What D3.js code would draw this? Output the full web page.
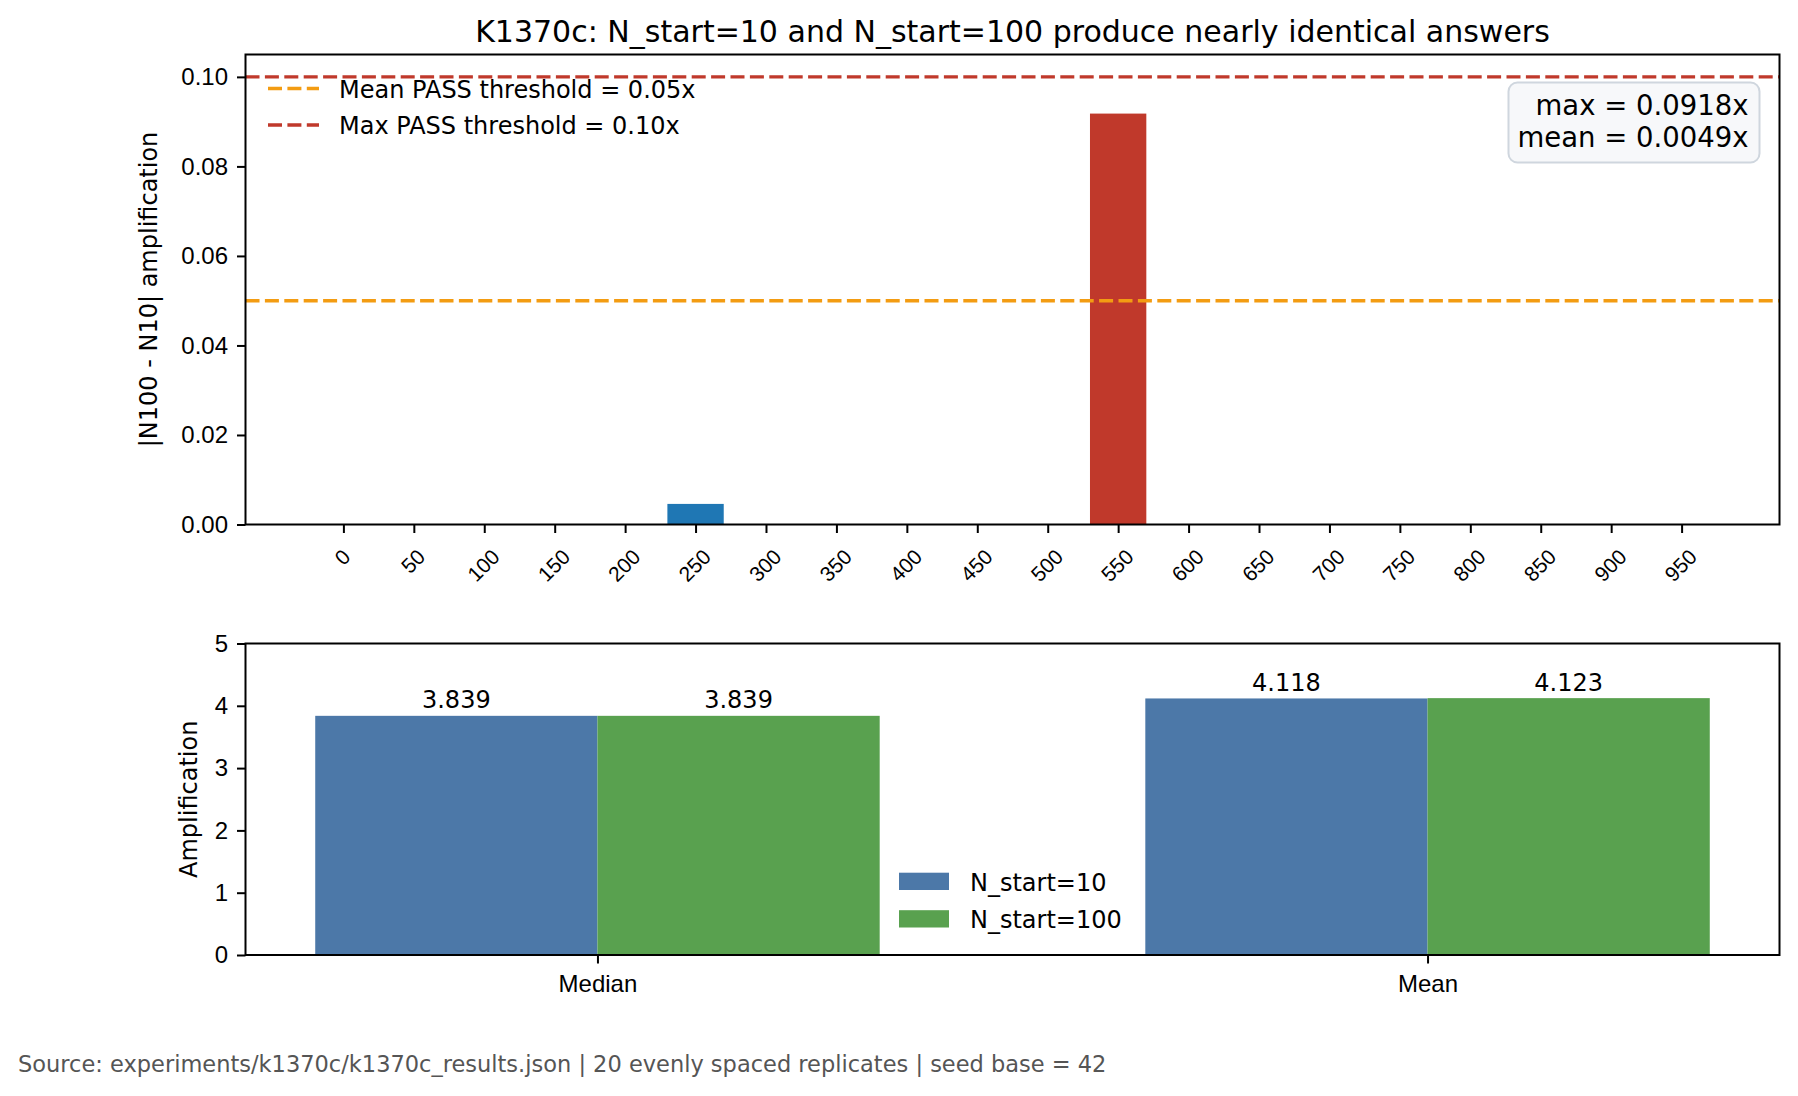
<!DOCTYPE html>
<html>
<head>
<meta charset="utf-8">
<script src="https://cdn.jsdelivr.net/npm/d3@7"></script>
<style>
  body { margin: 0; background: #fff; }
  svg { display: block; font-family: "DejaVu Sans", sans-serif; }
</style>
</head>
<body>
<svg id="chart" width="1798" height="1096"></svg>
<script>
// ---- data ----
const replicateIds = [0, 50, 100, 150, 200, 250, 300, 350, 400, 450, 500, 550, 600, 650, 700, 750, 800, 850, 900, 950];
const absDiff = [0, 0, 0, 0, 0, 0.0046, 0, 0, 0, 0, 0, 0.0918, 0, 0, 0, 0, 0, 0, 0, 0];
const thresholdValues = [0.05, 0.10];
const thresholdLabels = ["Mean PASS threshold = 0.05x", "Max PASS threshold = 0.10x"];
const statLines = ["max = 0.0918x", "mean = 0.0049x"];
const topYTicks = [0, 0.02, 0.04, 0.06, 0.08, 0.10];

const summaryCats = ["Median", "Mean"];
const seriesNames = ["N_start=10", "N_start=100"];
const nStart10 = [3.839, 4.118];
const nStart100 = [3.839, 4.123];
const bottomYTicks = [0, 1, 2, 3, 4, 5];

const titleText = "K1370c: N_start=10 and N_start=100 produce nearly identical answers";
const sourceText = "Source: experiments/k1370c/k1370c_results.json | 20 evenly spaced replicates | seed base = 42";

// ---- styles ----
const thresholdColors = ["#f39c12", "#c0392b"];
const barBlue = "#1f77b4", barRed = "#c0392b";
const seriesColors = ["#4c78a8", "#59a14f"];
const dash = "14,5.4";
const xTickFs = 21;

const svg = d3.select("#chart");
const topBox = { left: 245.5, right: 1779.5, top: 54.5, bottom: 524.5 };
const botBox = { left: 245.5, right: 1779.5, top: 643.5, bottom: 955 };

function styleAxis(g, fs) {
  g.select(".domain").remove();
  g.selectAll(".tick line").attr("stroke", "#000").attr("stroke-width", 2);
  g.selectAll(".tick text").attr("fill", "#000").style("font-size", fs + "px");
}

// ---- title ----
svg.append("text")
  .attr("x", (topBox.left + topBox.right) / 2)
  .attr("y", 41.5)
  .attr("text-anchor", "middle")
  .style("font-size", "30px")
  .text(titleText);

// ---- top panel ----
const x1 = d3.scaleLinear().domain([-69.5, 1019.5]).range([topBox.left, topBox.right]);
const y1 = d3.scaleLinear().domain([0, 0.105]).range([topBox.bottom, topBox.top]);
const maxVal = d3.max(absDiff);

svg.append("g").selectAll("rect")
  .data(absDiff)
  .join("rect")
  .attr("x", (d, i) => x1(replicateIds[i] - 20))
  .attr("width", x1(40) - x1(0))
  .attr("y", d => y1(d))
  .attr("height", d => y1(0) - y1(d))
  .attr("fill", d => d === maxVal ? barRed : barBlue);

// threshold lines
svg.append("g").selectAll("line")
  .data(thresholdValues)
  .join("line")
  .attr("x1", topBox.left).attr("x2", topBox.right)
  .attr("y1", d => y1(d)).attr("y2", d => y1(d))
  .attr("stroke", (d, i) => thresholdColors[i])
  .attr("stroke-width", 3.4)
  .attr("stroke-dasharray", dash);

// y axis
svg.append("g")
  .attr("transform", `translate(${topBox.left},0)`)
  .call(d3.axisLeft(y1).tickValues(topYTicks).tickFormat(d3.format(".2f")).tickSize(8.5).tickPadding(9))
  .call(g => styleAxis(g, 24));

// x axis with rotated labels
const gx1 = svg.append("g")
  .attr("transform", `translate(0,${topBox.bottom})`)
  .call(d3.axisBottom(x1).tickValues(replicateIds).tickFormat(d => d).tickSize(8.5))
  .call(g => styleAxis(g, xTickFs));
gx1.selectAll(".tick text").each(function (d) {
  const t = d3.select(this);
  const w = this.getComputedTextLength();
  const ext = (w + 0.73 * xTickFs) / Math.SQRT2;
  t.attr("y", 0).attr("dy", "0.36em")
    .attr("text-anchor", "middle")
    .attr("transform", `translate(-1.5,${23 + ext / 2}) rotate(-45)`);
});

// frame
svg.append("rect")
  .attr("x", topBox.left).attr("y", topBox.top)
  .attr("width", topBox.right - topBox.left).attr("height", topBox.bottom - topBox.top)
  .attr("fill", "none").attr("stroke", "#000").attr("stroke-width", 2);

// y label
svg.append("text")
  .attr("transform", `translate(157,${(topBox.top + topBox.bottom) / 2}) rotate(-90)`)
  .attr("text-anchor", "middle")
  .style("font-size", "24px")
  .text("|N100 - N10| amplification");

// legend
const lg1 = svg.append("g");
thresholdLabels.forEach((lab, i) => {
  const yy = 88.5 + i * 36.5;
  lg1.append("line")
    .attr("x1", 268).attr("x2", 319).attr("y1", yy).attr("y2", yy)
    .attr("stroke", thresholdColors[i]).attr("stroke-width", 3.4)
    .attr("stroke-dasharray", dash);
  lg1.append("text")
    .attr("x", 339).attr("y", yy + 9)
    .style("font-size", "24px")
    .text(lab);
});

// stats box
svg.append("rect")
  .attr("x", 1508.5).attr("y", 82.5).attr("width", 251).attr("height", 80)
  .attr("rx", 9).attr("fill", "#f7f8fa").attr("stroke", "#cfd6de").attr("stroke-width", 2);
svg.append("g").selectAll("text")
  .data(statLines)
  .join("text")
  .attr("x", 1748.5)
  .attr("y", (d, i) => 115 + i * 32.3)
  .attr("text-anchor", "end")
  .style("font-size", "27.5px")
  .text(d => d);

// ---- bottom panel ----
const bw = 0.34;
const x2 = d3.scaleLinear().domain([-0.424, 1.424]).range([botBox.left, botBox.right]);
const y2 = d3.scaleLinear().domain([0, 5]).range([botBox.bottom, botBox.top]);
const seriesVals = [nStart10, nStart100];

const bars = [];
seriesVals.forEach((vals, s) => {
  vals.forEach((v, i) => bars.push({ s, i, v, x0: i + (s === 0 ? -bw : 0) }));
});

svg.append("g").selectAll("rect")
  .data(bars)
  .join("rect")
  .attr("x", d => x2(d.x0))
  .attr("width", x2(bw) - x2(0))
  .attr("y", d => y2(d.v))
  .attr("height", d => y2(0) - y2(d.v))
  .attr("fill", d => seriesColors[d.s]);

svg.append("g").selectAll("text")
  .data(bars)
  .join("text")
  .attr("x", d => x2(d.x0 + bw / 2))
  .attr("y", d => y2(d.v) - 7.5)
  .attr("text-anchor", "middle")
  .style("font-size", "24px")
  .text(d => d3.format(".3f")(d.v));

svg.append("g")
  .attr("transform", `translate(${botBox.left},0)`)
  .call(d3.axisLeft(y2).tickValues(bottomYTicks).tickFormat(d3.format("d")).tickSize(8.5).tickPadding(9))
  .call(g => styleAxis(g, 24));

svg.append("g")
  .attr("transform", `translate(0,${botBox.bottom})`)
  .call(d3.axisBottom(x2).tickValues([0, 1]).tickFormat(d => summaryCats[d]).tickSize(8.5).tickPadding(11.5))
  .call(g => styleAxis(g, 24));

svg.append("rect")
  .attr("x", botBox.left).attr("y", botBox.top)
  .attr("width", botBox.right - botBox.left).attr("height", botBox.bottom - botBox.top)
  .attr("fill", "none").attr("stroke", "#000").attr("stroke-width", 2);

svg.append("text")
  .attr("transform", `translate(196.5,${(botBox.top + botBox.bottom) / 2}) rotate(-90)`)
  .attr("text-anchor", "middle")
  .style("font-size", "24px")
  .text("Amplification");

// legend
const lg2 = svg.append("g");
seriesNames.forEach((name, i) => {
  const yy = 872.7 + i * 37.5;
  lg2.append("rect")
    .attr("x", 899).attr("y", yy).attr("width", 50).attr("height", 17.3)
    .attr("fill", seriesColors[i]);
  lg2.append("text")
    .attr("x", 970).attr("y", yy + 18)
    .style("font-size", "24px")
    .text(name);
});

// ---- source note ----
svg.append("text")
  .attr("x", 18).attr("y", 1072)
  .attr("fill", "#555")
  .style("font-size", "22.5px")
  .text(sourceText);
</script>
</body>
</html>
